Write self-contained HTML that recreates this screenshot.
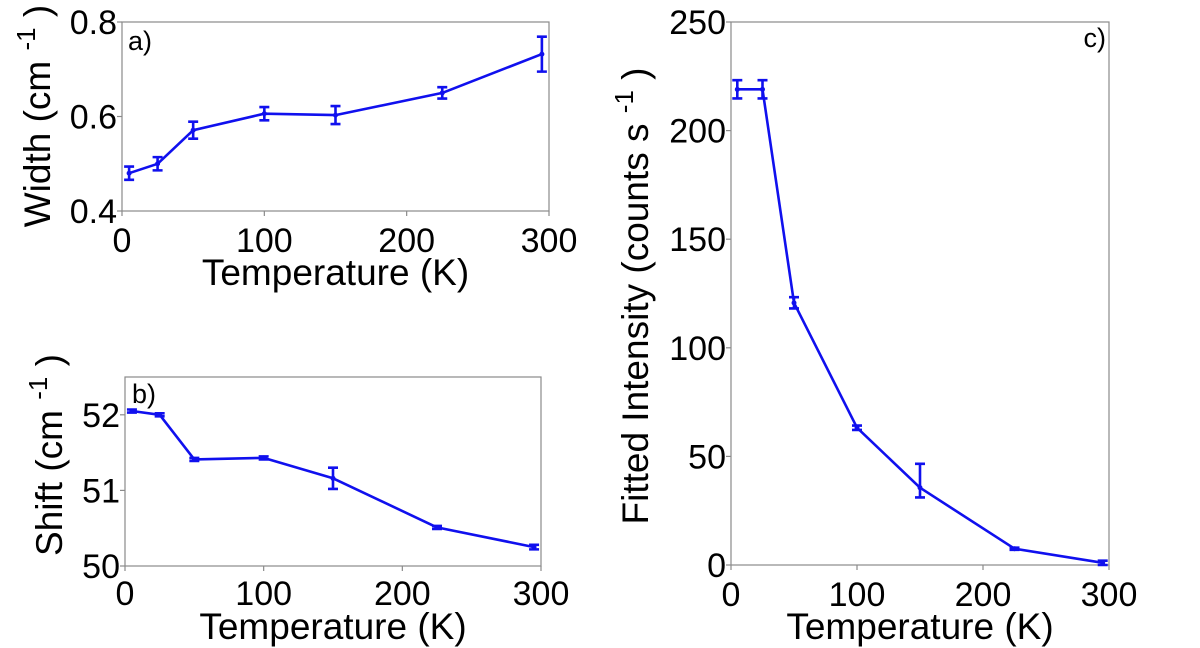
<!DOCTYPE html>
<html><head><meta charset="utf-8"><style>
html,body{margin:0;padding:0;background:#fff;}
svg{display:block;font-family:"Liberation Sans",Arial,sans-serif;}
</style></head><body>
<svg id="fig" width="1200" height="648" viewBox="0 0 1200 648"></svg>
<script>
const temps = [5, 25, 50, 100, 150, 225, 295];
const widthVals = [0.480, 0.500, 0.571, 0.606, 0.603, 0.650, 0.732];
const widthErr = [0.014, 0.014, 0.018, 0.014, 0.019, 0.012, 0.037];
const shiftVals = [52.05, 52.00, 51.41, 51.43, 51.16, 50.51, 50.25];
const shiftErr = [0.02, 0.02, 0.02, 0.02, 0.14, 0.02, 0.03];
const intVals = [219, 219, 120.7, 63.2, 35.6, 7.5, 1.0];
const intErrUp = [4.2, 4.2, 2.6, 1.0, 11.0, 0.5, 1.0];
const intErrDown = [4.2, 4.2, 2.6, 1.0, 4.5, 0.5, 1.0];
const xTicks = [0, 100, 200, 300];
const widthTicks = [0.4, 0.6, 0.8];
const widthTickLabels = ["0.4", "0.6", "0.8"];
const shiftTicks = [50, 51, 52];
const shiftTickLabels = ["50", "51", "52"];
const intTicks = [0, 50, 100, 150, 200, 250];
const intTickLabels = ["0", "50", "100", "150", "200", "250"];

const NS = "http://www.w3.org/2000/svg";
const svg = document.getElementById('fig');
const BLUE = '#1010ee';
function mk(tag, attrs, parent, text) {
  const e = document.createElementNS(NS, tag);
  for (const k in attrs) e.setAttribute(k, attrs[k]);
  if (text !== undefined) e.textContent = text;
  (parent || svg).appendChild(e);
  return e;
}

function panel(o) {
  const g = mk('g', {});
  
  
  const sx = v => o.x0 + (v - 0) / 300 * (o.x1 - o.x0);
  const sy = v => o.yb - (v - o.ymin) / (o.ymax - o.ymin) * (o.yb - o.yt);
  const frame = mk('rect', {x: o.x0, y: o.yt, width: o.x1 - o.x0, height: o.yb - o.yt, fill: 'none', stroke: '#8a8a8a', 'stroke-width': 1.2}, g);
  
  
  xTicks.forEach(t => {
    const tk = mk('line', {x1: sx(t), x2: sx(t), y1: o.yb, y2: o.yb + 5, stroke: '#8a8a8a', 'stroke-width': 1.2}, g);
    
    
    const lb = mk('text', {x: sx(t), y: o.xly, 'font-size': 34, 'text-anchor': 'middle', fill: '#000'}, g, String(t));
    
    
  });
  o.yt_.forEach((t, i) => {
    const tk = mk('line', {x1: o.x0 - 5, x2: o.x0, y1: sy(t), y2: sy(t), stroke: '#8a8a8a', 'stroke-width': 1.2}, g);
    
    
    const lb = mk('text', {x: o.x0 - 5, y: sy(t) + 12, 'font-size': 34, 'text-anchor': 'end', fill: '#000'}, g, o.ytl[i]);
    
    
  });
  const xt = mk('text', {x: (o.x0 + o.x1) / 2, y: o.xty, 'font-size': 37, 'text-anchor': 'middle', fill: '#000'}, g, 'Temperature (K)');
  
  
  const yt = mk('text', {x: 0, y: 0, 'font-size': 37, 'text-anchor': 'middle', fill: '#000', transform: `translate(${o.ytx},${o.yty}) rotate(-90)`}, g);
  
  
  mk('tspan', {}, yt, o.ytitle + ' ');
  mk('tspan', {dy: -15, 'font-size': 26}, yt, '-1');
  mk('tspan', {dy: 15}, yt, ' )');
  const pl = mk('text', {x: o.plx, y: o.ply, 'font-size': 27, 'text-anchor': o.pla, fill: '#000'}, g, o.plabel);
  
  
  const pts = temps.map((t, i) => sx(t).toFixed(1) + ',' + sy(o.vals[i]).toFixed(1)).join(' ');
  const line = mk('polyline', {points: pts, fill: 'none', stroke: BLUE, 'stroke-width': 2.6, 'stroke-linejoin': 'round'}, g);
  
  
  temps.forEach((t, i) => {
    const x = sx(t), ya = sy(o.vals[i] + o.eu[i]), yb = sy(o.vals[i] - o.ed[i]);
    const eb = mk('path', {d: `M${x},${ya}V${yb}M${x - 5},${ya}H${x + 5}M${x - 5},${yb}H${x + 5}`, stroke: BLUE, 'stroke-width': 2.6, fill: 'none'}, g);
    
    
    const pt = mk('circle', {cx: x, cy: sy(o.vals[i]), r: 2.5, fill: BLUE}, g);
    
    
  });
}

panel({name: 'panel-a-width', x0: 122, x1: 549, yt: 22, yb: 211, ymin: 0.4, ymax: 0.8,
  yt_: widthTicks, ytl: widthTickLabels, vals: widthVals, eu: widthErr, ed: widthErr,
  xly: 252, xty: 285, ytx: 50, yty: 116, ytitle: 'Width (cm', plabel: 'a)', plx: 128, ply: 50, pla: 'start'});
panel({name: 'panel-b-shift', x0: 125, x1: 541, yt: 377, yb: 566, ymin: 50, ymax: 52.5,
  yt_: shiftTicks, ytl: shiftTickLabels, vals: shiftVals, eu: shiftErr, ed: shiftErr,
  xly: 605, xty: 639, ytx: 62, yty: 455, ytitle: 'Shift (cm', plabel: 'b)', plx: 132, ply: 403, pla: 'start'});
panel({name: 'panel-c-intensity', x0: 731, x1: 1109, yt: 22, yb: 565, ymin: 0, ymax: 250,
  yt_: intTicks, ytl: intTickLabels, vals: intVals, eu: intErrUp, ed: intErrDown,
  xly: 606, xty: 639, ytx: 648, yty: 296, ytitle: 'Fitted Intensity (counts s', plabel: 'c)', plx: 1106, ply: 47, pla: 'end'});
</script>
</body></html>
